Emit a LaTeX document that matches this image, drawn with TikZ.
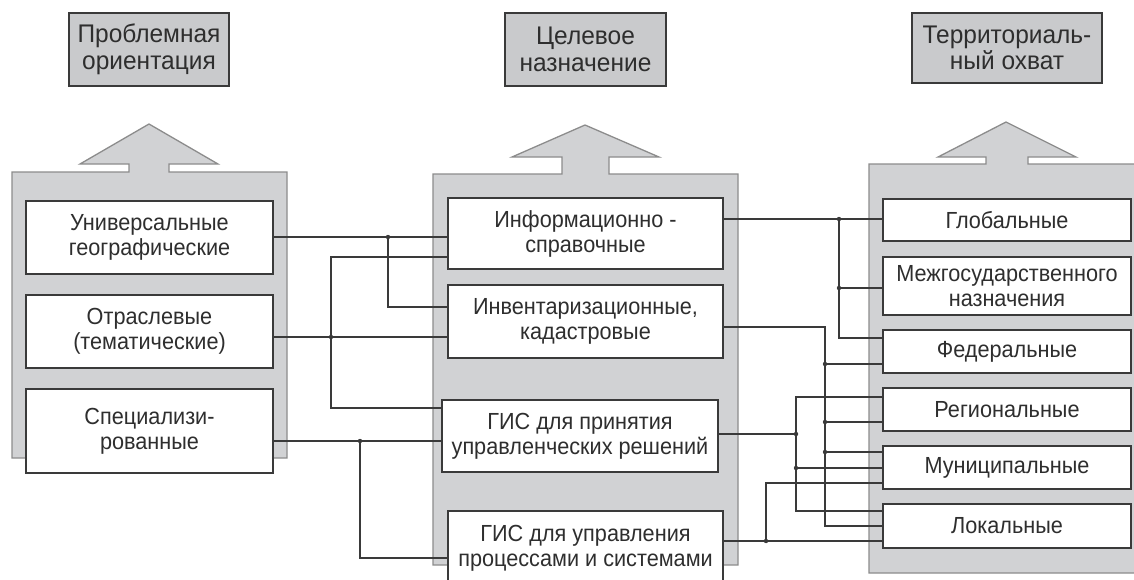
\documentclass[tikz,border=0pt]{standalone}
\usepackage{fontspec}
\setmainfont{Liberation Sans}
\newfontfamily\bodyfont[FakeStretch=0.93]{Liberation Sans}
\newfontfamily\hdrfont[FakeStretch=0.96]{Liberation Sans}
\definecolor{panelfill}{HTML}{D1D2D4}
\definecolor{paneldraw}{HTML}{8C8C8C}
\definecolor{hdrfill}{HTML}{C9CACC}
\definecolor{ink}{HTML}{3A3A3A}
\definecolor{txt}{HTML}{2E2E2E}
\tikzset{
  panel/.style={fill=panelfill, draw=paneldraw, line width=1.3pt},
  hdr/.style={draw=ink, fill=hdrfill, line width=1.2pt, inner sep=0pt, align=center, text=txt, font=\hdrfont\fontsize{25.5}{26.5}\selectfont},
  itembox/.style={draw=ink, fill=white, line width=1.3pt, inner sep=0pt, align=center, text=txt, font=\bodyfont\fontsize{23.3}{25}\selectfont},
  conn/.style={draw=ink, line width=1.3pt},
}
\begin{document}
\begin{tikzpicture}[x=1pt,y=-1pt]
\useasboundingbox (0,0) rectangle (1134,579);
\fill[white] (0,0) rectangle (1134,579);
\clip (0,0) rectangle (1134,579);
% panels with arrows
\path[panel] (12,458) -- (12,172) -- (129,172) -- (129,164) -- (80,164) -- (149,124) -- (218,164) -- (169,164) -- (169,172) -- (287,172) -- (287,458) -- cycle;
\path[panel] (433,565) -- (433,174) -- (562,174) -- (562,157) -- (512,157) -- (585,125) -- (659,157) -- (609,157) -- (609,174) -- (738,174) -- (738,565) -- cycle;
\path[panel] (869,573) -- (869,164) -- (986,164) -- (986,157) -- (938,157) -- (1006,122) -- (1076,157) -- (1028,157) -- (1028,164) -- (1140,164) -- (1140,573) -- cycle;
% headers
\node[hdr, minimum width=160, minimum height=73] (H1) at (149,49.5) {Проблемная\\ориентация};
\node[hdr, minimum width=161, minimum height=73] (H2) at (585.5,49.5) {Целевое\\назначение};
\node[hdr, minimum width=190, minimum height=70] (H3) at (1007,48) {Территориаль-\\ный охват};
% junction and bend coordinates
\coordinate (j1) at (388,237);  \coordinate (b1) at (388,307);
\coordinate (j2) at (331,337);  \coordinate (b2a) at (331,257); \coordinate (b2b) at (331,408);
\coordinate (j3) at (360,441);  \coordinate (b3) at (360,558);
\coordinate (j4) at (839,219);  \coordinate (j5) at (839,288);  \coordinate (b4) at (839,338);
\coordinate (b6a) at (825,327); \coordinate (j6) at (825,364);  \coordinate (j7) at (825,422);
\coordinate (j8) at (825,452);  \coordinate (b6b) at (825,526);
\coordinate (j9) at (796,434);  \coordinate (b9a) at (796,397); \coordinate (j10) at (796,468);
\coordinate (b9b) at (796,511);
\coordinate (j11) at (766,541); \coordinate (b11) at (766,483);
% left boxes
\node[itembox, minimum width=247, minimum height=73] (L1) at (149.5,237.5) {Универсальные\\географические};
\node[itembox, minimum width=247, minimum height=73] (L2) at (149.5,331.5) {Отраслевые\\(тематические)};
\node[itembox, minimum width=247, minimum height=84] (L3) at (149.5,431) {Специализи-\\рованные};
% middle boxes
\node[itembox, minimum width=275, minimum height=71] (M1) at (585.5,233.5) {Информационно -\\справочные};
\node[itembox, minimum width=275, minimum height=73] (M2) at (585.5,321.5) {Инвентаризационные,\\кадастровые};
\node[itembox, minimum width=276, minimum height=72] (M3) at (580,436) {ГИС для принятия\\управленческих решений};
\node[itembox, minimum width=275, minimum height=74] (M4) at (585.5,548) {ГИС для управления\\процессами и системами};
% right boxes
\node[itembox, minimum width=248, minimum height=42] (R1) at (1007,220) {Глобальные};
\node[itembox, minimum width=248, minimum height=58] (R2) at (1007,286) {Межгосударственного\\назначения};
\node[itembox, minimum width=248, minimum height=43] (R3) at (1007,351.5) {Федеральные};
\node[itembox, minimum width=248, minimum height=43] (R4) at (1007,409.5) {Региональные};
\node[itembox, minimum width=248, minimum height=43] (R5) at (1007,467.5) {Муниципальные};
\node[itembox, minimum width=248, minimum height=44] (R6) at (1007,526) {Локальные};
% connectors left -> middle
\draw[conn] (L1.east |- j1) -- (M1.west |- j1);
\draw[conn] (j1) -- (b1) -- (M2.west |- b1);
\draw[conn] (L2.east |- j2) -- (M2.west |- j2);
\draw[conn] (M1.west |- b2a) -- (b2a) -- (b2b) -- (M3.west |- b2b);
\draw[conn] (L3.east |- j3) -- (M3.west |- j3);
\draw[conn] (j3) -- (b3) -- (M4.west |- b3);
% connectors middle -> right
\draw[conn] (M1.east |- j4) -- (R1.west |- j4);
\draw[conn] (j4) -- (b4) -- (R3.west |- b4);
\draw[conn] (j5) -- (R2.west |- j5);
\draw[conn] (M2.east |- b6a) -- (b6a) -- (b6b) -- (R6.west |- b6b);
\draw[conn] (j6) -- (R3.west |- j6);
\draw[conn] (j7) -- (R4.west |- j7);
\draw[conn] (j8) -- (R5.west |- j8);
\draw[conn] (M3.east |- j9) -- (j9);
\draw[conn] (R4.west |- b9a) -- (b9a) -- (b9b) -- (R6.west |- b9b);
\draw[conn] (j10) -- (R5.west |- j10);
\draw[conn] (M4.east |- j11) -- (R6.west |- j11);
\draw[conn] (j11) -- (b11) -- (R5.west |- b11);
% junction dots
\foreach \j in {j1,j2,j3,j4,j5,j6,j7,j8,j9,j10,j11}
  \fill[ink] (\j) circle (2.2);
\end{tikzpicture}
\end{document}
